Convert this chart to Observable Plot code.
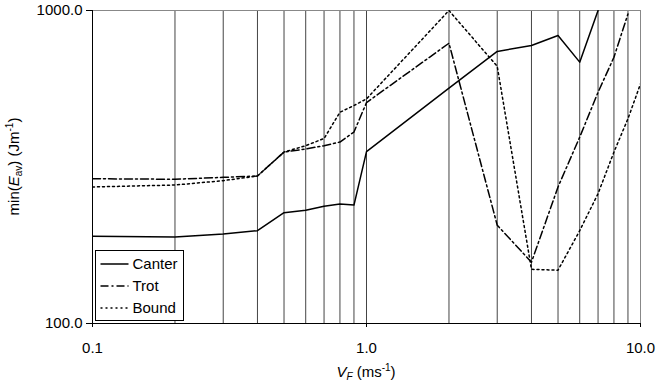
<!DOCTYPE html>
<html><head><meta charset="utf-8">
<script src="https://cdn.jsdelivr.net/npm/d3@7"></script>
<script src="https://cdn.jsdelivr.net/npm/@observablehq/plot@0.6"></script>
<style>body{margin:0;background:#fff} svg{display:block}</style>
</head><body><div id="chart"></div>
<script>
// Data
const speeds = [0.1,0.2,0.3,0.4,0.5,0.6,0.7,0.8,0.9,1,2,3,4,5,6,7,8,9,10];
const canter = [190,189,193,198,226,230,237,241,239,354,565,740,773,832,684,1000];
const trot   = [290,289,293,296,353,361,370,380,409,508,786,206,157,273,394,548,709,975];
const bound  = [273,277,286,296,353,370,390,473,497,522,1000,663,149,148,198,260,353,451,583];
const seriesNames = ["Canter","Trot","Bound"];
const seriesDash = ["none","8,3,2,3","2,3"];
const xTicks = [0.1,1,10];
const yTicks = [100,1000];

const seriesValues = [canter, trot, bound];
const rows = seriesNames.map((name, i) =>
  seriesValues[i].map((v, j) => ({series: name, speed: speeds[j], value: v})));

const FONT = "'Liberation Sans', Arial, Helvetica, sans-serif";

const plot = Plot.plot({
  width: 659,
  height: 392,
  marginLeft: 92,
  marginRight: 19,
  marginTop: 10,
  marginBottom: 69,
  style: {fontFamily: FONT, fontSize: "15px", background: "white", color: "black", overflow: "visible"},
  x: {type: "log", domain: [0.1, 10]},
  y: {type: "log", domain: [100, 1000]},
  marks: [
    Plot.ruleX(speeds, {stroke: "#444", strokeWidth: 1}),
    Plot.ruleY([1000], {stroke: "#888", strokeWidth: 1}),
    Plot.ruleX([10], {stroke: "#888", strokeWidth: 1}),
    Plot.ruleY([100], {stroke: "black", strokeWidth: 1}),
    Plot.ruleX([0.1], {stroke: "black", strokeWidth: 1}),
    ...rows.map((r, i) => Plot.line(r, {
      x: "speed", y: "value", stroke: "black", strokeWidth: 1.5,
      strokeDasharray: seriesDash[i] === "none" ? undefined : seriesDash[i],
      clip: true
    })),
    Plot.axisX(xTicks, {tickSize: 4, tickPadding: 15, tickFormat: d => d.toFixed(1), label: null, fontSize: 15}),
    Plot.axisY(yTicks, {tickSize: 6, tickPadding: 4, tickFormat: d => d.toFixed(1), label: null, fontSize: 15})
  ]
});

document.getElementById("chart").appendChild(plot);

const svg = d3.select(plot);
const xs = plot.scale("x"), ys = plot.scale("y");
const cx = (xs.apply(0.1) + xs.apply(10)) / 2;
const cy = (ys.apply(100) + ys.apply(1000)) / 2;

// X axis title
const xt = svg.append("text")
  .attr("x", cx).attr("y", 377)
  .attr("text-anchor", "middle")
  .style("font-family", FONT).style("font-size", "15px").attr("fill", "black");
xt.append("tspan").attr("font-style", "italic").text("V");
xt.append("tspan").attr("font-style", "italic").attr("font-size", "10px").attr("dy", 3).text("F");
xt.append("tspan").attr("dy", -3).text(" (ms");
xt.append("tspan").attr("font-size", "10px").attr("dy", -6).text("-1");
xt.append("tspan").attr("dy", 6).text(")");

// Y axis title
const yt = svg.append("text")
  .attr("transform", `translate(19,${cy}) rotate(-90)`)
  .attr("text-anchor", "middle")
  .style("font-family", FONT).style("font-size", "15px").attr("fill", "black");
yt.append("tspan").text("min(");
yt.append("tspan").attr("font-style", "italic").text("E");
yt.append("tspan").attr("font-size", "10px").attr("dy", 3).text("av");
yt.append("tspan").attr("dy", -3).text(") (Jm");
yt.append("tspan").attr("font-size", "10px").attr("dy", -6).text("-1");
yt.append("tspan").attr("dy", 6).text(")");

// Legend
const lx = xs.apply(0.1) + 3.5, ly = 250.5;
const lg = svg.append("g");
lg.append("rect").attr("x", lx).attr("y", ly).attr("width", 88).attr("height", 70)
  .attr("fill", "white").attr("stroke", "black").attr("stroke-width", 1);
seriesNames.forEach((name, i) => {
  const yy = ly + 13.5 + i * 22;
  lg.append("line").attr("x1", lx + 5).attr("x2", lx + 33).attr("y1", yy).attr("y2", yy)
    .attr("stroke", "black").attr("stroke-width", 1.5)
    .attr("stroke-dasharray", seriesDash[i] === "none" ? null : seriesDash[i]);
  lg.append("text").attr("x", lx + 37).attr("y", yy).attr("dy", "0.35em")
    .attr("text-anchor", "start")
    .style("font-family", FONT).style("font-size", "15px").attr("fill", "black").text(name);
});
</script>
</body></html>
